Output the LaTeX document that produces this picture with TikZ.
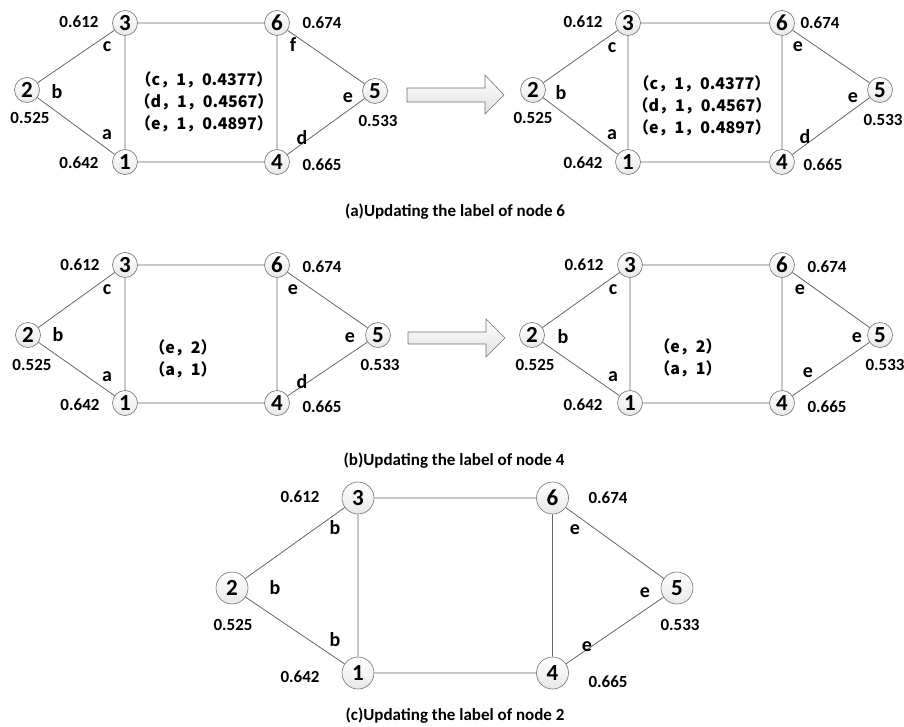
\documentclass[tikz,border=0pt]{standalone}
\usepackage{fontspec}
\setmainfont{Carlito}
\newfontfamily\cjk{Noto Sans CJK SC}
\tikzset{
  vtx/.style={circle, draw=black!55, top color=white, bottom color=black!9, line width=0.6pt,
    minimum size=25pt, inner sep=0pt, font=\fontsize{23}{23}\selectfont\bfseries},
  vtxbig/.style={vtx, minimum size=32pt},
  edge/.style={draw=black!60, line width=0.8pt},
  wt/.style={font=\fontsize{17}{17}\selectfont\bfseries, inner sep=0pt},
  lab/.style={font=\fontsize{20}{20}\selectfont\bfseries, inner sep=0pt},
  tup/.style={font=\cjk\bfseries\fontsize{16}{22}\selectfont, inner sep=0pt, align=center},
  captxt/.style={font=\fontsize{17}{17}\selectfont\bfseries, inner sep=0pt},
  bigarrow/.style={draw=black!55, top color=white, bottom color=black!12, line width=0.6pt}
}
\newcommand\graphedges[1]{\draw[edge] (#1-2)--(#1-3) (#1-3)--(#1-6) (#1-6)--(#1-5) (#1-5)--(#1-4) (#1-4)--(#1-1) (#1-1)--(#1-2) (#1-3)--(#1-1) (#1-6)--(#1-4);}
\begin{document}
\begin{tikzpicture}[x=1pt,y=-1pt]
\useasboundingbox[fill=white] (0,0) rectangle (904,727);

% ---------------- panel (a) left
\node[vtx] (aL-2) at (27,90) {2};
\node[vtx] (aL-3) at (125,23) {3};
\node[vtx] (aL-6) at (277,23) {6};
\node[vtx] (aL-5) at (375,91) {5};
\node[vtx] (aL-1) at (125,162) {1};
\node[vtx] (aL-4) at (277,162) {4};
\graphedges{aL}
\node[wt] (aL-w3) at (79,22) {0.612};
\node[lab] (aL-l3) at (107,47) {c};
\node[lab] (aL-l2) at (57,92) {b};
\node[wt] (aL-w2) at (30,118) {0.525};
\node[lab] (aL-l1) at (107,135) {a};
\node[wt] (aL-w1) at (79,163) {0.642};
\node[wt] (aL-w6) at (322,23) {0.674};
\node[lab] (aL-l6) at (293,45) {f};
\node[lab] (aL-l5) at (348,98) {e};
\node[wt] (aL-w5) at (378,121) {0.533};
\node[lab] (aL-l4) at (302,138) {d};
\node[wt] (aL-w4) at (322,165) {0.665};
\node[tup] (aL-t) at (204,102) {（c，1，0.4377）\\（d，1，0.4567）\\（e，1，0.4897）};

% arrow (a)
\draw[bigarrow] (407,88) -- (485,88) -- (485,75) -- (504,95) -- (485,114) -- (485,102) -- (407,102) -- cycle;

% ---------------- panel (a) right
\node[vtx] (aR-2) at (533,90) {2};
\node[vtx] (aR-3) at (628,23) {3};
\node[vtx] (aR-6) at (782,23) {6};
\node[vtx] (aR-5) at (880,90) {5};
\node[vtx] (aR-1) at (628,162) {1};
\node[vtx] (aR-4) at (782,162) {4};
\graphedges{aR}
\node[wt] (aR-w3) at (583,22) {0.612};
\node[lab] (aR-l3) at (612,48) {c};
\node[lab] (aR-l2) at (561,93) {b};
\node[wt] (aR-w2) at (533,118) {0.525};
\node[lab] (aR-l1) at (612,135) {a};
\node[wt] (aR-w1) at (583,163) {0.642};
\node[wt] (aR-w6) at (820,23) {0.674};
\node[lab] (aR-l6) at (798,47) {e};
\node[lab] (aR-l5) at (853,98) {e};
\node[wt] (aR-w5) at (883,120) {0.533};
\node[lab] (aR-l4) at (805,137) {d};
\node[wt] (aR-w4) at (823,165) {0.665};
\node[tup] (aR-t) at (702,106) {（c，1，0.4377）\\（d，1，0.4567）\\（e，1，0.4897）};

\node[captxt] (capA) at (455,212) {(a)Updating the label of node 6};

% ---------------- panel (b) left
\node[vtx] (bL-2) at (28,335) {2};
\node[vtx] (bL-3) at (125,265) {3};
\node[vtx] (bL-6) at (277,265) {6};
\node[vtx] (bL-5) at (378,335) {5};
\node[vtx] (bL-1) at (125,403) {1};
\node[vtx] (bL-4) at (277,403) {4};
\graphedges{bL}
\node[wt] (bL-w3) at (80,265) {0.612};
\node[lab] (bL-l3) at (107,290) {c};
\node[lab] (bL-l2) at (58,335) {b};
\node[wt] (bL-w2) at (32,365) {0.525};
\node[lab] (bL-l1) at (107,377) {a};
\node[wt] (bL-w1) at (80,405) {0.642};
\node[wt] (bL-w6) at (322,267) {0.674};
\node[lab] (bL-l6) at (293,290) {e};
\node[lab] (bL-l5) at (350,338) {e};
\node[wt] (bL-w5) at (380,365) {0.533};
\node[lab] (bL-l4) at (302,382) {d};
\node[wt] (bL-w4) at (322,407) {0.665};
\node[tup] (bL-t) at (183,359) {（e，2）\\（a，1）};

% arrow (b)
\draw[bigarrow] (408,332) -- (486,332) -- (486,319) -- (505,338) -- (486,357) -- (486,344) -- (408,344) -- cycle;

% ---------------- panel (b) right
\node[vtx] (bR-2) at (532,335) {2};
\node[vtx] (bR-3) at (630,265) {3};
\node[vtx] (bR-6) at (782,265) {6};
\node[vtx] (bR-5) at (880,335) {5};
\node[vtx] (bR-1) at (630,403) {1};
\node[vtx] (bR-4) at (782,403) {4};
\graphedges{bR}
\node[wt] (bR-w3) at (584,265) {0.612};
\node[lab] (bR-l3) at (613,290) {c};
\node[lab] (bR-l2) at (563,337) {b};
\node[wt] (bR-w2) at (535,365) {0.525};
\node[lab] (bR-l1) at (613,377) {a};
\node[wt] (bR-w1) at (583,405) {0.642};
\node[wt] (bR-w6) at (827,267) {0.674};
\node[lab] (bR-l6) at (800,290) {e};
\node[lab] (bR-l5) at (857,338) {e};
\node[wt] (bR-w5) at (885,365) {0.533};
\node[lab] (bR-l4) at (808,373) {e};
\node[wt] (bR-w4) at (827,407) {0.665};
\node[tup] (bR-t) at (688,358) {（e，2）\\（a，1）};

\node[captxt] (capB) at (454,461) {(b)Updating the label of node 4};

% ---------------- panel (c)
\node[vtxbig] (c-2) at (232,588) {2};
\node[vtxbig] (c-3) at (358,498) {3};
\node[vtxbig] (c-6) at (552.5,498) {6};
\node[vtxbig] (c-5) at (677,588) {5};
\node[vtxbig] (c-1) at (358,673) {1};
\node[vtxbig] (c-4) at (552.5,673) {4};
\graphedges{c}
\node[wt] (c-w3) at (300,497) {0.612};
\node[lab] (c-l3) at (335,528) {b};
\node[lab] (c-l2) at (275,588) {b};
\node[wt] (c-w2) at (233,625) {0.525};
\node[lab] (c-l1) at (335,640) {b};
\node[wt] (c-w1) at (300,677) {0.642};
\node[wt] (c-w6) at (608,498) {0.674};
\node[lab] (c-l6) at (575,530) {e};
\node[lab] (c-l5) at (645,593) {e};
\node[wt] (c-w5) at (680,625) {0.533};
\node[lab] (c-l4) at (587,647) {e};
\node[wt] (c-w4) at (608,682) {0.665};

\node[captxt] (capC) at (455,716) {(c)Updating the label of node 2};
\end{tikzpicture}
\end{document}
